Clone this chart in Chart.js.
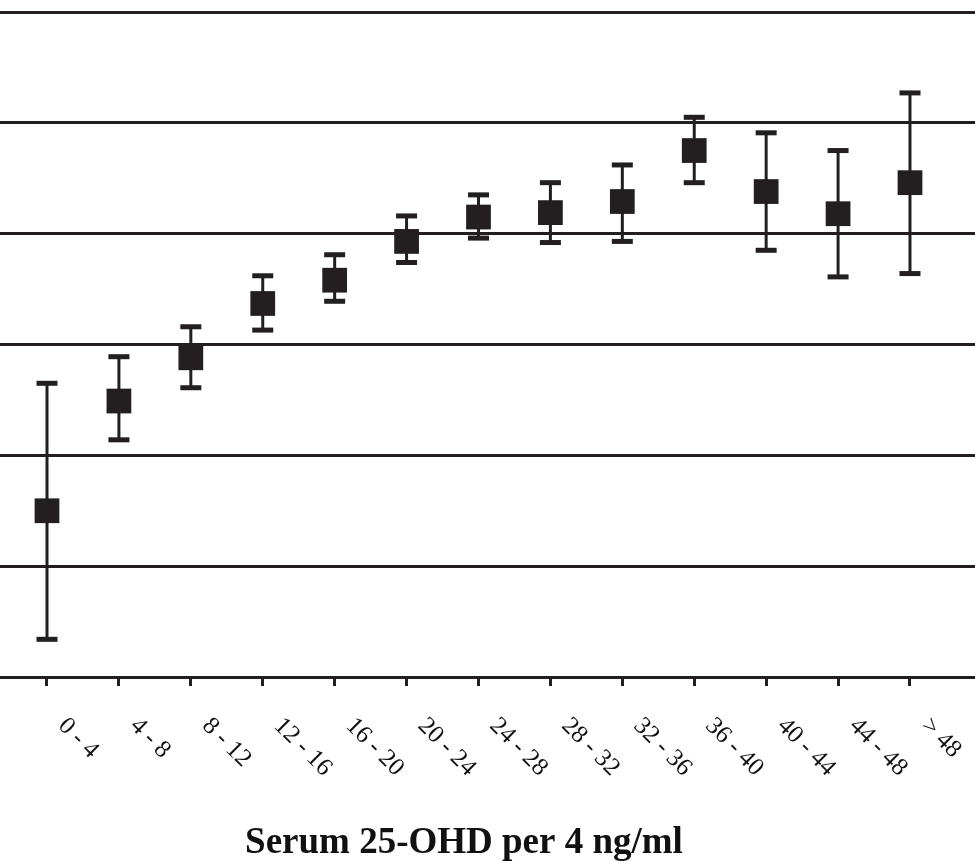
<!DOCTYPE html>
<html>
<head>
<meta charset="utf-8">
<script src="https://cdn.jsdelivr.net/npm/chart.js@4.4.1/dist/chart.umd.min.js"></script>
<style>
  html, body { margin: 0; padding: 0; background: #fff; }
  #wrap { width: 975px; height: 861px; }
</style>
</head>
<body>
<div id="wrap"><canvas id="chart"></canvas></div>
<script>
const categories = ["0 - 4", "4 - 8", "8 - 12", "12 - 16", "16 - 20", "20 - 24", "24 - 28",
  "28 - 32", "32 - 36", "36 - 40", "40 - 44", "44 - 48", "> 48"];
const means = [1.50, 2.49, 2.88, 3.37, 3.58, 3.93, 4.15, 4.19, 4.29, 4.75, 4.38, 4.18, 4.46];
const upper = [2.65, 2.89, 3.16, 3.62, 3.81, 4.16, 4.35, 4.46, 4.62, 5.05, 4.91, 4.75, 5.27];
const lower = [0.34, 2.14, 2.61, 3.13, 3.39, 3.74, 3.96, 3.92, 3.93, 4.46, 3.85, 3.61, 3.64];
const xTitle = "Serum 25-OHD per 4 ng/ml";

const ink = "#231f20";

const errorBars = {
  id: "errorBars",
  beforeDatasetsDraw(chart) {
    const ctx = chart.ctx;
    const xs = chart.scales.x, ys = chart.scales.y;
    ctx.save();
    ctx.strokeStyle = ink;
    ctx.fillStyle = ink;
    ctx.lineWidth = 3;
    means.forEach((m, i) => {
      const x = xs.getPixelForValue(i);
      const yt = ys.getPixelForValue(upper[i]);
      const yb = ys.getPixelForValue(lower[i]);
      ctx.beginPath();
      ctx.moveTo(x, yt);
      ctx.lineTo(x, yb);
      ctx.stroke();
      ctx.fillRect(x - 10.5, yt - 2.5, 21, 5);
      ctx.fillRect(x - 10.5, yb - 2.5, 21, 5);
    });
    ctx.restore();
  }
};

const labelsAndTitle = {
  id: "labelsAndTitle",
  afterDraw(chart) {
    const ctx = chart.ctx;
    const xs = chart.scales.x;
    const bottom = chart.chartArea.bottom;
    ctx.save();
    ctx.fillStyle = "#111";
    ctx.font = '25px "Liberation Serif"';
    ctx.textAlign = "left";
    ctx.textBaseline = "middle";
    categories.forEach((c, i) => {
      const x = xs.getPixelForValue(i);
      ctx.save();
      ctx.translate(x + 15, bottom + 45);
      ctx.rotate(Math.PI / 4);
      ctx.fillText(c, 0, 0);
      ctx.restore();
    });
    ctx.font = 'bold 37px "Liberation Serif"';
    ctx.textAlign = "center";
    ctx.textBaseline = "alphabetic";
    ctx.fillText(xTitle, 464, 853);
    ctx.restore();
  }
};

new Chart(document.getElementById("chart"), {
  type: "line",
  data: {
    datasets: [{
      data: means.map((v, i) => ({ x: i, y: v })),
      showLine: false,
      pointStyle: "rect",
      pointRadius: 17.5,
      pointHoverRadius: 17.5,
      pointBackgroundColor: ink,
      pointBorderWidth: 0,
    }]
  },
  options: {
    responsive: true,
    maintainAspectRatio: false,
    animation: false,
    events: [],
    layout: { autoPadding: false, padding: { top: 12, bottom: 175, left: 0, right: 0 } },
    plugins: { legend: { display: false }, tooltip: { enabled: false } },
    scales: {
      x: {
        type: "linear",
        min: -0.6535,
        max: 12.904,
        afterBuildTicks: (scale) => {
          scale.ticks = categories.map((c, i) => ({ value: i }));
        },
        ticks: { display: false },
        grid: {
          drawOnChartArea: false,
          drawTicks: true,
          tickLength: 9,
          lineWidth: 3,
          color: ink,
        },
        border: { display: false },
      },
      y: {
        min: 0,
        max: 6,
        ticks: { display: false, stepSize: 1 },
        grid: { drawTicks: false, lineWidth: 3, color: ink },
        border: { display: false },
      }
    }
  },
  plugins: [errorBars, labelsAndTitle]
});
</script>
</body>
</html>
